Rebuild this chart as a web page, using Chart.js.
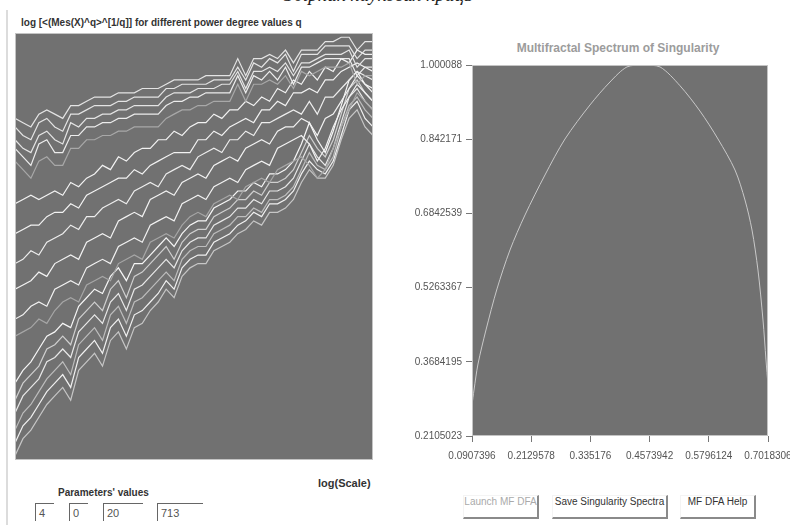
<!DOCTYPE html>
<html lang="en">
<head>
<meta charset="UTF-8">
<title>MF DFA - Multifractal Spectrum</title>
<script src="https://cdn.jsdelivr.net/npm/chart.js"></script>
<style>
  body {
    margin: 0;
    width: 790px;
    height: 525px;
    overflow: hidden;
    background: #fff;
    position: relative;
    font-family: 'Liberation Sans', Arial, sans-serif;
  }
  .abs { position: absolute; white-space: nowrap; }
  #journal { left: 284px; top: -16px; font: italic 19px 'Liberation Serif', serif; color: #222; }
  #leftRule { left: 6px; top: 10px; width: 2px; height: 515px; background: #dcdcdc; }
  #leftTitle { left: 21px; top: 17px; font: bold 10px 'Liberation Sans', Arial, sans-serif; color: #333; }
  #leftBox { left: 15px; top: 33px; width: 358px; height: 427px; }
  #rightTitle { left: 470px; top: 41px; width: 296px; text-align: center; font: bold 12px 'Liberation Sans', Arial, sans-serif; color: #9c9c9c; }
  #rightBox { left: 380px; top: 30px; width: 430px; height: 440px; }
  #scaleLbl { left: 318px; top: 477px; font: bold 11px 'Liberation Sans', Arial, sans-serif; color: #333; }
  #paramLbl { left: 58px; top: 487px; font: bold 10px 'Liberation Sans', Arial, sans-serif; color: #333; }
  .field { top: 503px; height: 18px; border-top: 1px solid #666; border-left: 1px solid #666;
           font: 11px 'Liberation Sans', Arial, sans-serif; color: #555; padding: 3px 0 0 3px; box-sizing: border-box; }
  .btn { top: 495px; height: 24px; box-sizing: border-box; border-right: 2px solid #8a8a8a; border-bottom: 2px solid #8a8a8a;
         border-top: 1px solid #f4f4f4; border-left: 1px solid #f4f4f4; text-align: center; line-height: 21px;
         font: 10px 'Liberation Sans', Arial, sans-serif; color: #333; }
</style>
</head>
<body>
  <div id="journal" class="abs">Збірник наукових праць</div>
  <div id="leftRule" class="abs"></div>
  <div id="leftTitle" class="abs">log [&lt;(Mes(X)^q&gt;^[1/q]] for different power degree values q</div>
  <div id="leftBox" class="abs"><canvas id="qChart"></canvas></div>
  <div id="rightTitle" class="abs">Multifractal Spectrum of Singularity</div>
  <div id="rightBox" class="abs"><canvas id="specChart"></canvas></div>

  <div id="scaleLbl" class="abs">log(Scale)</div>
  <div id="paramLbl" class="abs">Parameters' values</div>
  <div class="abs field" style="left:35px;width:19px;">4</div>
  <div class="abs field" style="left:69px;width:19px;">0</div>
  <div class="abs field" style="left:103px;width:40px;">20</div>
  <div class="abs field" style="left:157px;width:46px;">713</div>

  <div class="abs btn" style="left:463px;width:76px;color:#aaa;">Launch MF DFA</div>
  <div class="abs btn" style="left:552px;width:116px;">Save Singularity Spectra</div>
  <div class="abs btn" style="left:680px;width:76px;">MF DFA Help</div>

  <script>
    // log(Scale) positions shared by all q curves
    const logScale = [1.0,1.1,1.2,1.3,1.4,1.5,1.6,1.7,1.8,1.9,2.0,2.1,2.2,2.3,2.4,2.5,2.6,2.7,2.8,2.9,3.0,3.1,3.2,3.3,3.4,3.5,3.6,3.7,3.8,3.9,4.0,4.1,4.2,4.3,4.4,4.5,4.6,4.7,4.8,4.9,5.0,5.1,5.2,5.3,5.4,5.5];

    // upper bundle (large q)
    const qUp1 = [80,79,78,81,82,81,80,83,83,84,85,85,85,86,86,86,87,87,87,88,89,89,89,89,90,90,90,90,94,90,94,94,95,94,96,93,96,96,96,98,98,99,99,96,98,98];
    const qUp2 = [78,76,75,79,80,78,77,81,81,82,83,83,83,84,84,85,85,85,85,87,87,88,88,88,88,89,89,89,92,89,93,92,94,93,95,91,95,95,95,97,97,97,97,94,96,96];
    const qUp3 = [75,73,72,76,77,75,74,79,78,80,80,81,81,82,82,83,83,83,83,85,86,86,86,87,87,87,88,88,91,87,91,91,92,91,93,90,93,93,94,95,95,95,96,92,94,94];
    const qUp4 = [73,71,69,74,75,72,72,76,76,78,78,79,79,80,80,81,81,81,81,83,84,84,85,85,86,86,86,86,90,86,90,89,91,89,92,88,92,92,93,94,94,94,94,90,92,92];
    const qUp5 = [70,68,66,70,71,69,69,73,73,75,75,76,76,77,77,78,78,78,78,80,81,82,82,83,83,84,84,84,88,84,88,88,89,88,90,87,91,90,91,92,92,92,93,88,90,90];

    // middle fan
    const qMidA = [60,61,62,61,62,63,62,65,64,66,67,69,68,71,70,72,73,73,75,75,77,76,78,79,79,81,80,82,82,84,83,85,84,87,86,89,88,91,89,92,91,94,93,96,95,95];
    const qMidB = [53,54,55,55,57,58,58,60,59,62,63,64,65,66,66,68,67,69,70,71,72,72,72,75,75,77,76,78,79,80,79,82,82,84,83,86,86,87,86,89,89,91,92,93,92,91];
    const qMidC = [46,47,49,48,51,52,53,55,54,57,57,59,60,61,60,63,64,65,64,67,68,69,68,71,72,73,72,75,75,77,76,79,79,80,81,82,81,84,81,85,85,87,89,91,90,89];
    const qMidD = [40,41,42,44,43,46,47,48,47,51,52,53,52,56,57,58,57,61,62,63,62,65,66,67,66,69,70,71,70,73,74,75,74,77,78,78,80,79,76,80,81,84,87,90,88,86];
    const qMidE = [33,34,36,37,36,40,41,42,41,45,46,47,46,50,51,52,51,55,56,57,56,60,61,62,61,64,65,66,65,68,69,70,69,73,74,75,76,74,70,73,78,82,85,88,86,84];
    const qMidG = [29,30,31,33,32,35,37,38,37,41,42,43,42,46,47,48,47,51,52,53,52,55,57,58,57,60,61,62,61,64,65,66,65,68,69,70,71,69,66,68,73,78,82,86,84,82];

    // lower bundle (negative q)
    const qLow1 = [18,21,23,26,29,30,32,31,36,38,40,39,43,45,42,46,46,48,50,52,50,53,55,56,56,59,60,61,63,63,65,64,67,67,68,70,74,79,75,72,77,83,89,91,88,87];
    const qLow2 = [14,18,20,22,26,27,29,27,33,35,37,35,40,42,38,43,44,46,48,50,47,51,53,54,54,57,58,59,61,61,63,62,65,65,66,68,72,76,73,71,75,81,87,89,86,84];
    const qLow3 = [11,15,17,19,23,24,26,24,30,32,34,32,37,39,35,40,41,43,45,47,45,49,51,52,52,55,56,57,59,59,61,60,63,63,64,66,70,74,71,69,73,79,85,87,84,82];
    const qLow4 = [7,11,13,16,19,21,23,20,27,29,31,28,34,36,32,37,38,40,42,44,42,47,49,50,50,53,54,55,57,57,59,58,61,61,62,64,68,72,69,68,71,78,83,85,82,80];
    const qLow5 = [4,8,10,13,16,18,20,17,24,26,28,25,31,33,29,34,35,37,39,42,40,45,47,48,48,51,52,53,55,56,58,57,60,60,61,63,67,70,68,67,70,76,82,84,80,78];
    const qLow6 = [1,5,7,10,13,15,17,14,21,23,25,22,28,30,26,31,32,35,37,40,38,43,45,46,46,49,50,51,53,54,56,55,58,58,59,61,65,68,66,66,69,75,80,82,78,76];

    // singularity spectrum f(alpha)
    const alphaVals = [0.0907,0.0949,0.1031,0.1196,0.1423,0.1692,0.2002,0.2414,0.2827,0.3343,0.3756,0.4107,0.4437,0.4789,0.5201,0.5614,0.5986,0.6337,0.6543,0.6688,0.6811,0.6915,0.6977,0.7018];
    const fVals = [0.2765,0.3084,0.3637,0.4361,0.5234,0.6064,0.6809,0.7660,0.8426,0.9150,0.9639,0.9960,1.0000,0.9960,0.9560,0.9020,0.8426,0.7766,0.7128,0.6489,0.5638,0.4574,0.3723,0.3191];
    const alphaTicks = [0.0907396, 0.2129578, 0.335176, 0.4573942, 0.5796124, 0.7018306];
    const fTicks = [0.2105023, 0.3684195, 0.5263367, 0.6842539, 0.842171, 1.000088];

    const plotBg = {
      id: 'plotBg',
      beforeDraw(chart) {
        const { ctx, chartArea: a } = chart;
        ctx.save();
        ctx.fillStyle = '#717171';
        ctx.fillRect(a.left, a.top, a.width, a.height);
        ctx.restore();
      },
      afterDraw(chart) {
        const { ctx, chartArea: a } = chart;
        ctx.save();
        ctx.strokeStyle = '#c4c4c4';
        ctx.lineWidth = 1;
        ctx.strokeRect(a.left + 0.5, a.top + 0.5, a.width - 1, a.height - 1);
        ctx.restore();
      }
    };

    function curve(values, color) {
      return {
        data: values.map((v, i) => ({ x: logScale[i], y: v })),
        borderColor: color,
        borderWidth: 1.2,
        pointRadius: 0,
        tension: 0
      };
    }

    new Chart(document.getElementById('qChart'), {
      type: 'line',
      data: {
        datasets: [
          curve(qUp1, '#e4e4e4'), curve(qUp2, '#e4e4e4'), curve(qUp3, '#e4e4e4'),
          curve(qUp4, '#ececec'), curve(qUp5, '#a8a8a8'),
          curve(qMidA, '#f2f2f2'), curve(qMidB, '#f2f2f2'), curve(qMidC, '#ededed'),
          curve(qMidD, '#f2f2f2'), curve(qMidE, '#f2f2f2'), curve(qMidG, '#a6a6a6'),
          curve(qLow1, '#f6f6f6'), curve(qLow2, '#cfcfcf'), curve(qLow3, '#e8e8e8'),
          curve(qLow4, '#bdbdbd'), curve(qLow5, '#f0f0f0'), curve(qLow6, '#c6c6c6')
        ]
      },
      options: {
        responsive: true,
        maintainAspectRatio: false,
        animation: false,
        layout: { padding: 0 },
        plugins: { legend: { display: false }, tooltip: { enabled: false } },
        scales: {
          x: { type: 'linear', display: false, min: 1.0, max: 5.5 },
          y: { display: false, min: 0, max: 100 }
        }
      },
      plugins: [plotBg]
    });

    const tickFont = { family: "'Liberation Sans Narrow', 'Arial Narrow', 'Liberation Sans', sans-serif", size: 10 };

    new Chart(document.getElementById('specChart'), {
      type: 'scatter',
      data: {
        datasets: [{
          data: alphaVals.map((a, i) => ({ x: a, y: fVals[i] })),
          showLine: true,
          borderColor: '#c9c9c9',
          borderWidth: 1,
          pointRadius: 0,
          tension: 0.3
        }]
      },
      options: {
        responsive: true,
        maintainAspectRatio: false,
        animation: false,
        layout: { padding: { top: 35, right: 42, left: 0, bottom: 0 } },
        plugins: { legend: { display: false }, tooltip: { enabled: false } },
        scales: {
          x: {
            type: 'linear',
            min: alphaTicks[0],
            max: alphaTicks[alphaTicks.length - 1],
            afterBuildTicks: s => { s.ticks = alphaTicks.map(v => ({ value: v })); },
            afterFit: s => { s.height = 34; },
            ticks: { callback: v => String(v), font: tickFont, color: '#555', padding: 8, maxRotation: 0, autoSkip: false },
            grid: { drawOnChartArea: false, tickLength: 6, color: '#777' },
            border: { display: false }
          },
          y: {
            min: fTicks[0],
            max: fTicks[fTicks.length - 1],
            afterBuildTicks: s => { s.ticks = fTicks.map(v => ({ value: v })); },
            afterFit: s => { s.width = 92; },
            ticks: { callback: v => String(v), font: tickFont, color: '#555', padding: 4, autoSkip: false },
            grid: { drawOnChartArea: false, tickLength: 6, color: '#777' },
            border: { display: false }
          }
        }
      },
      plugins: [plotBg]
    });
  </script>
</body>
</html>
